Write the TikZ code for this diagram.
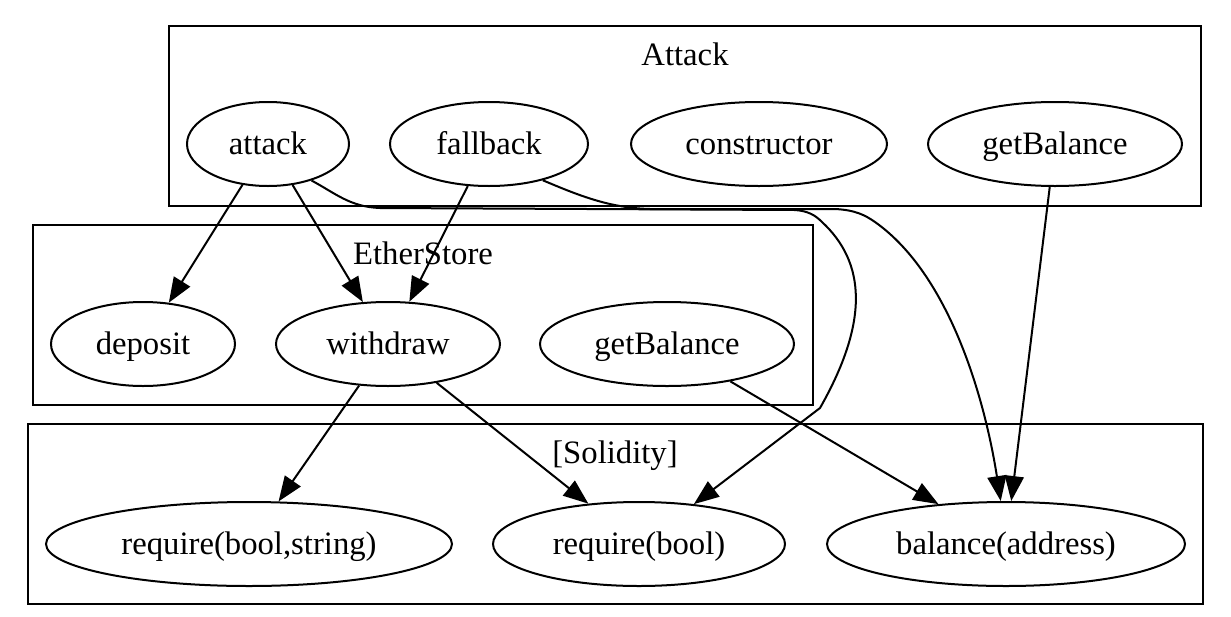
\documentclass[tikz,border=0pt]{standalone}
\usepackage{fontspec}
\setmainfont{Liberation Serif}
\usetikzlibrary{shapes.geometric,arrows.meta}
\begin{document}
\begin{tikzpicture}[x=1pt,y=-1pt,
  fn/.style={ellipse,draw,line width=2pt,inner sep=0pt,minimum height=84pt,
    text height=24pt,text depth=3.5pt,font=\fontsize{32.7}{39}\selectfont},
  clu/.style={draw,line width=2pt},
  cl/.style={anchor=base,inner sep=0pt,font=\fontsize{32.7}{39}\selectfont},
  edge/.style={line width=2pt,-{Triangle[length=25pt,width=19pt]}}]
\useasboundingbox (0,0) rectangle (1231,616);
% clusters
\draw[clu] (169,26) rectangle (1201,206);
\node[cl] (lA) at (685,65) {Attack};
\draw[clu] (33,225) rectangle (813,405);
\node[cl] (lE) at (423,264) {EtherStore};
\draw[clu] (28,424) rectangle (1203,604);
\node[cl] (lS) at (615,463) {[Solidity]};
% nodes
\node[fn,minimum width=162pt] (attack) at (268,144) {attack};
\node[fn,minimum width=198pt] (fallback) at (489,144) {fallback};
\node[fn,minimum width=256pt] (constructor) at (759,144) {constructor};
\node[fn,minimum width=254pt] (gbA) at (1055,144) {getBalance};
\node[fn,minimum width=184pt] (deposit) at (143,344) {deposit};
\node[fn,minimum width=224pt] (withdraw) at (388,344) {withdraw};
\node[fn,minimum width=254pt] (gbE) at (667,344) {getBalance};
\node[fn,minimum width=406pt] (rbs) at (249,544) {require(bool,string)};
\node[fn,minimum width=292pt] (rb) at (639,544) {require(bool)};
\node[fn,minimum width=358pt] (bal) at (1006,544) {balance(address)};
% edges
\draw[edge] (attack) -- (deposit);
\draw[edge] (attack) -- (withdraw);
\draw[edge] (fallback) -- (withdraw);
\draw[edge] (gbA) -- (bal);
\draw[edge] (withdraw) -- (rbs);
\draw[edge] (withdraw) -- (rb);
\draw[edge] (gbE) -- (bal);
\draw[edge] (attack.-40) .. controls (335,193) and (350,207) .. (380,208)
  -- (795,210) .. controls (808,211) and (815,215) .. (822,222)
  .. controls (865,262) and (870,320) .. (820,408) -- (rb.36);
\draw[edge] (fallback.-34) .. controls (580,196) and (610,208) .. (650,209)
  -- (835,209) .. controls (855,210) and (865,215) .. (875,222)
  .. controls (950,275) and (985,400) .. (bal.97);
\end{tikzpicture}
\end{document}
